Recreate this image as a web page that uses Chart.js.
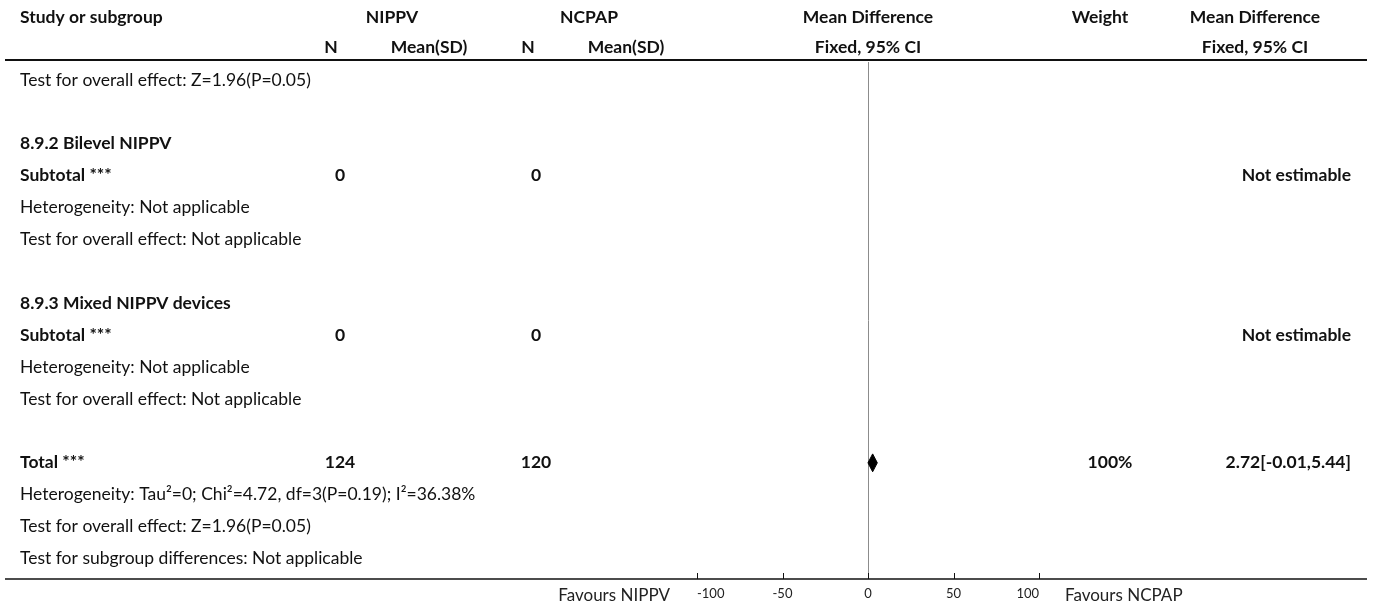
<!DOCTYPE html>
<html>
<head>
<meta charset="utf-8">
<script src="https://cdn.jsdelivr.net/npm/chart.js@4.4.0/dist/chart.umd.min.js"></script>
<style>
  body { margin: 0; background: #fff; }
  #wrap { width: 1375px; height: 610px; }
</style>
</head>
<body>
<div id="wrap"><canvas id="forest" width="1375" height="610"></canvas></div>
<script>
// table rows, top to bottom (row index = y value)
const rowLabels = [
    "Test for overall effect: Z=1.96(P=0.05)", "",
    "8.9.2 Bilevel NIPPV", "Subtotal ***", "Heterogeneity: Not applicable", "Test for overall effect: Not applicable", "",
    "8.9.3 Mixed NIPPV devices", "Subtotal ***", "Heterogeneity: Not applicable", "Test for overall effect: Not applicable", "",
    "Total ***", "Heterogeneity: Tau\u00b2=0; Chi\u00b2=4.72, df=3(P=0.19); I\u00b2=36.38%",
    "Test for overall effect: Z=1.96(P=0.05)", "Test for subgroup differences: Not applicable"
];
const boldRows = [2, 3, 7, 8, 12];
const nippvN = ["", "", "", "0", "", "", "", "", "0", "", "", "", "124", "", "", ""];
const ncpapN = ["", "", "", "0", "", "", "", "", "0", "", "", "", "120", "", "", ""];
const weights = ["", "", "", "", "", "", "", "", "", "", "", "", "100%", "", "", ""];
const ciText = ["", "", "", "Not estimable", "", "", "", "", "Not estimable", "", "", "", "2.72[-0.01,5.44]", "", "", ""];

// pooled estimate (total row)
const totalRow = 12;
const mdEst = [2.72];
const ciLow = [-0.01];
const ciHigh = [5.44];

const xTicks = [-100, -50, 0, 50, 100];

const FONT = "Lato, 'Source Sans Pro', sans-serif";
const DIAMOND_H = 0.28;

const diamond = [
    { x: ciLow[0], y: totalRow },
    { x: mdEst[0], y: totalRow - DIAMOND_H },
    { x: ciHigh[0], y: totalRow },
    { x: mdEst[0], y: totalRow + DIAMOND_H },
    { x: ciLow[0], y: totalRow }
];

const tablePlugin = {
    id: "forestTable",
    afterDraw(chart) {
        const ctx = chart.ctx;
        const xs = chart.scales.x;
        const ys = chart.scales.y;
        const area = chart.chartArea;
        ctx.save();
        ctx.fillStyle = "#111";
        ctx.textBaseline = "middle";

        function txt(s, x, y, align, bold, size) {
            ctx.font = (bold ? "bold " : "") + (size || 17.5) + "px " + FONT;
            ctx.textAlign = align;
            ctx.fillText(s, x, y);
        }

        // header
        txt("Study or subgroup", 20, 17, "left", true);
        txt("NIPPV", 392, 17, "center", true);
        txt("NCPAP", 589, 17, "center", true);
        txt("Mean Difference", 868, 17, "center", true);
        txt("Weight", 1100, 17, "center", true);
        txt("Mean Difference", 1255, 17, "center", true);
        txt("N", 331, 47, "center", true);
        txt("Mean(SD)", 429, 47, "center", true);
        txt("N", 528, 47, "center", true);
        txt("Mean(SD)", 626, 47, "center", true);
        txt("Fixed, 95% CI", 868, 47, "center", true);
        txt("Fixed, 95% CI", 1255, 47, "center", true);

        // rows
        rowLabels.forEach((lab, i) => {
            const y = ys.getPixelForValue(i);
            const b = boldRows.includes(i);
            if (lab) txt(lab, 20, y, "left", b);
            if (nippvN[i]) txt(nippvN[i], 340, y, "center", true);
            if (ncpapN[i]) txt(ncpapN[i], 536, y, "center", true);
            if (weights[i]) txt(weights[i], 1110, y, "center", true);
            if (ciText[i]) txt(ciText[i], 1351, y, "right", true);
        });

        // rules
        ctx.strokeStyle = "#111";
        ctx.lineWidth = 2;
        ctx.beginPath();
        ctx.moveTo(5, 60); ctx.lineTo(1367, 60);
        ctx.stroke();
        ctx.lineWidth = 1.5;
        ctx.beginPath();
        ctx.moveTo(5, area.bottom); ctx.lineTo(1367, area.bottom);
        ctx.stroke();

        // axis ticks (upward)
        ctx.lineWidth = 1;
        xs.ticks.forEach(t => {
            const px = Math.round(xs.getPixelForValue(t.value)) + 0.5;
            ctx.beginPath();
            ctx.moveTo(px, area.bottom);
            ctx.lineTo(px, area.bottom - 6);
            ctx.stroke();
        });

        // favours labels
        ctx.fillStyle = "#222";
        txt("Favours NIPPV", 670, 596, "right", false, 17);
        txt("Favours NCPAP", 1065, 596, "left", false, 17);
        ctx.restore();
    }
};

new Chart(document.getElementById("forest"), {
    type: "scatter",
    data: {
        datasets: [{
            data: diamond,
            showLine: true,
            fill: "shape",
            tension: 0,
            borderColor: "#000",
            backgroundColor: "#000",
            borderWidth: 1,
            pointRadius: 0
        }]
    },
    options: {
        responsive: false,
        animation: false,
        layout: { padding: { left: 697, right: 336, top: 62, bottom: 0 } },
        plugins: { legend: { display: false }, tooltip: { enabled: false } },
        scales: {
            x: {
                type: "linear",
                min: xTicks[0],
                max: xTicks[xTicks.length - 1],
                afterBuildTicks: s => { s.ticks = xTicks.map(v => ({ value: v })); },
                afterFit: s => { s.height = 31; },
                border: { display: false },
                grid: {
                    drawTicks: false,
                    color: c => (c.tick && c.tick.value === 0 ? "#8c8c8c" : "rgba(0,0,0,0)")
                },
                ticks: {
                    align: "inner",
                    padding: 7,
                    color: "#222",
                    font: { family: FONT, size: 13 }
                }
            },
            y: {
                type: "linear",
                display: false,
                reverse: true,
                min: -0.56,
                max: 15.64
            }
        }
    },
    plugins: [tablePlugin]
});
</script>
</body>
</html>
